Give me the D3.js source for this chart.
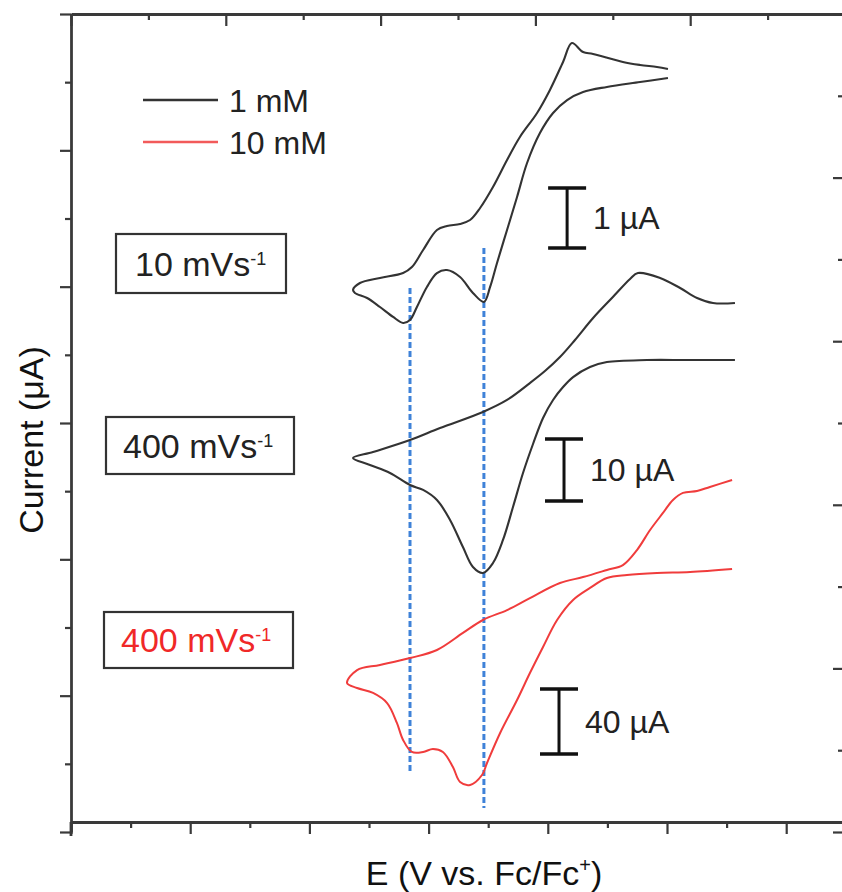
<!DOCTYPE html>
<html>
<head>
<meta charset="utf-8">
<script src="https://cdn.jsdelivr.net/npm/d3@7"></script>
<style>
  body { margin: 0; background: #fff; }
  text { font-family: "Liberation Sans", Arial, sans-serif; fill: #222; }
</style>
</head>
<body>
<div id="vis-container"></div>
<script>
//width and height
var w = 842;
var h = 892;

// cyclic voltammograms, [E (V), current (a.u., stacked)]
// each one runs from the upper right end, round the left tip, to the lower right end
var cv10_1mM = [[0.504,55.97],[0.458,56.11],[0.387,56.26],[0.315,56.48],[0.190,57.07],[0.148,57.21],[0.101,57.87],
  [0.064,56.48],[0.009,54.43],[-0.045,52.74],[-0.117,50.98],[-0.171,49.29],[-0.230,47.31],[-0.284,45.77],
  [-0.326,44.89],[-0.368,44.60],[-0.423,44.45],[-0.465,44.16],[-0.523,42.69],[-0.570,41.44],[-0.607,41.00],
  [-0.704,40.64],[-0.788,40.27],[-0.817,39.76],[-0.809,39.54],[-0.758,39.17],[-0.704,38.51],[-0.649,37.78],
  [-0.607,37.34],[-0.578,37.56],[-0.549,38.51],[-0.507,39.98],[-0.465,41.00],[-0.423,41.22],[-0.368,40.71],
  [-0.314,39.54],[-0.268,38.88],[-0.242,39.98],[-0.213,41.74],[-0.171,44.16],[-0.129,46.58],[-0.087,49.07],
  [-0.033,51.27],[0.022,52.74],[0.081,53.69],[0.148,54.28],[0.248,54.65],[0.387,55.01],[0.504,55.31]];

var cv400_1mM = [[0.785,38.80],[0.693,38.80],[0.626,39.17],[0.555,39.90],[0.471,40.64],[0.378,41.00],[0.345,40.56],
  [0.273,39.24],[0.190,37.70],[0.114,36.09],[0.051,34.84],[-0.012,33.81],[-0.075,32.93],[-0.171,31.69],[-0.272,30.81],
  [-0.452,29.63],[-0.578,28.75],[-0.733,27.87],[-0.817,27.43],[-0.746,26.92],[-0.662,26.33],[-0.578,25.45],
  [-0.523,25.09],[-0.465,24.35],[-0.410,22.89],[-0.356,20.90],[-0.314,19.44],[-0.272,19.00],[-0.230,19.73],
  [-0.188,21.42],[-0.146,23.84],[-0.104,26.33],[-0.062,28.46],[-0.020,30.37],[0.022,31.69],[0.064,32.64],[0.106,33.37],
  [0.177,34.11],[0.248,34.47],[0.416,34.62],[0.584,34.62],[0.785,34.62]];

var cv400_10mM = [[0.773,25.82],[0.680,25.31],[0.626,25.01],[0.567,24.87],[0.525,24.35],[0.483,23.40],[0.429,22.15],
  [0.374,20.68],[0.315,19.58],[0.248,19.22],[0.148,18.70],[0.051,18.26],[-0.075,17.16],[-0.171,16.28],
  [-0.272,15.55],[-0.356,14.60],[-0.465,13.35],[-0.578,12.76],[-0.704,12.25],[-0.800,11.88],[-0.842,10.93],
  [-0.800,10.56],[-0.733,10.20],[-0.674,9.46],[-0.633,8.00],[-0.607,6.75],[-0.570,5.87],[-0.523,5.87],
  [-0.482,6.09],[-0.440,5.87],[-0.398,4.77],[-0.368,3.67],[-0.326,3.45],[-0.276,4.18],[-0.255,5.06],
  [-0.200,7.26],[-0.129,9.68],[-0.075,11.66],[-0.020,13.57],[0.039,15.55],[0.106,17.02],[0.177,17.90],
  [0.248,18.63],[0.332,18.85],[0.458,19.00],[0.597,19.07],[0.773,19.29]];

// peak potentials marked with dashed lines: [E, I from, I to]
var peakLines = [[-0.578, 39.90, 4.33], [-0.268, 42.84, 1.76]];

// scale bars: [E, I top, I bottom, label]
var scaleBars = [[0.081, 47.24, 42.84, "1 µA"], [0.068, 28.83, 24.28, "10 µA"], [0.047, 10.49, 5.72, "40 µA"]];

var legendItems = ["1 mM", "10 mM"];
var scanRates = ["10 mVs", "400 mVs", "400 mVs"];

//scale functions
var xScale = d3.scaleLinear().domain([-2, 1.25]).range([71, 845.8]);
var yScale = d3.scaleLinear().domain([0, 60]).range([832, 14]);
var xTop = d3.scaleLinear().domain([0, 5]).range([71, 845]);
var yRight = d3.scaleLinear().domain([0, 5]).range([832, 14]);

var svg = d3.select("#vis-container")
    .append("svg")
    .attr("width", w)
    .attr("height", h);

var frameColor = "#3a3a3a";

function drawAxis(axis, tx, ty, major, minor, bigTick, smallTick) {
    var gMin = svg.append("g")
        .attr("transform", "translate(" + tx + "," + ty + ")")
        .call(axis.tickValues(minor).tickSize(smallTick).tickSizeOuter(0).tickFormat(""));
    gMin.select(".domain").remove();
    var gMaj = svg.append("g")
        .attr("transform", "translate(" + tx + "," + ty + ")")
        .call(axis.tickValues(major).tickSize(bigTick).tickSizeOuter(0).tickFormat(""));
    svg.selectAll(".tick line").attr("stroke", frameColor).attr("stroke-width", 2.2);
    gMaj.select(".domain").attr("stroke", frameColor).attr("stroke-width", 2.8);
}

// bottom axis (ticks outward)
drawAxis(d3.axisBottom(xScale), 0, 822, d3.range(-2, 1.3, 0.5), d3.range(-1.75, 1.3, 0.5), 12, 6);
// top axis (ticks inward)
drawAxis(d3.axisBottom(xTop), 0, 14, d3.range(0, 5.1, 1), d3.range(0.5, 5, 1), 12, 6);
// left axis (ticks outward)
drawAxis(d3.axisLeft(yScale), 71, 0, d3.range(0, 61, 10), d3.range(5, 60, 10), 11, 6);
// right axis (ticks inward)
drawAxis(d3.axisLeft(yRight), 843, 0, d3.range(0, 5.1, 1), d3.range(0.5, 5, 1), 10, 5);

// left axis runs a little past the bottom axis
svg.append("line")
    .attr("x1", 71).attr("x2", 71)
    .attr("y1", 822).attr("y2", 836)
    .attr("stroke", frameColor).attr("stroke-width", 2.8);

// dashed peak lines
svg.selectAll(".peak")
    .data(peakLines)
    .enter()
    .append("line")
    .attr("class", "peak")
    .attr("x1", function (d) { return xScale(d[0]); })
    .attr("x2", function (d) { return xScale(d[0]); })
    .attr("y1", function (d) { return yScale(d[1]); })
    .attr("y2", function (d) { return yScale(d[2]); })
    .attr("stroke", "#3f82d8")
    .attr("stroke-width", 3)
    .attr("stroke-dasharray", "6,3");

// curves
var line = d3.line()
    .x(function (d) { return xScale(d[0]); })
    .y(function (d) { return yScale(d[1]); })
    .curve(d3.curveCatmullRom.alpha(0.5));

svg.append("path").datum(cv10_1mM).attr("d", line)
    .attr("fill", "none").attr("stroke", "#333").attr("stroke-width", 2.1);
svg.append("path").datum(cv400_1mM).attr("d", line)
    .attr("fill", "none").attr("stroke", "#333").attr("stroke-width", 2.1);
svg.append("path").datum(cv400_10mM).attr("d", line)
    .attr("fill", "none").attr("stroke", "#f03c3c").attr("stroke-width", 2);

// scale bars
var bars = svg.selectAll(".bar")
    .data(scaleBars)
    .enter().append("g")
    .attr("class", "bar");

bars.append("line")
    .attr("x1", function (d) { return xScale(d[0]); })
    .attr("x2", function (d) { return xScale(d[0]); })
    .attr("y1", function (d) { return yScale(d[1]); })
    .attr("y2", function (d) { return yScale(d[2]); })
    .attr("stroke", "#111").attr("stroke-width", 3);
[1, 2].forEach(function (k) {
    bars.append("line")
        .attr("x1", function (d) { return xScale(d[0]) - 19; })
        .attr("x2", function (d) { return xScale(d[0]) + 19; })
        .attr("y1", function (d) { return yScale(d[k]); })
        .attr("y2", function (d) { return yScale(d[k]); })
        .attr("stroke", "#111").attr("stroke-width", 3.5);
});
bars.append("text")
    .attr("x", function (d) { return xScale(d[0]) + 26; })
    .attr("y", function (d) { return (yScale(d[1]) + yScale(d[2])) / 2; })
    .attr("dy", "0.36em")
    .style("font-size", "32px")
    .text(function (d) { return d[3]; });

// legend
var legend = svg.selectAll(".legend")
    .data(legendItems)
    .enter().append("g")
    .attr("class", "legend")
    .attr("transform", function (d, i) { return "translate(0," + (100 + i * 42) + ")"; });

legend.append("line")
    .attr("x1", 143).attr("x2", 218)
    .attr("stroke", function (d, i) { return i == 0 ? "#333" : "#f25a5a"; })
    .attr("stroke-width", 2.5);

legend.append("text")
    .attr("x", 229)
    .attr("y", 12)
    .style("font-size", "32px")
    .text(function (d) { return d; });

// scan rate boxes
var boxes = [[116, 234, 170, 59, 135, "#222"], [106, 417, 188, 57, 123, "#222"], [104, 612, 189, 56, 121, "#f02828"]];
boxes.forEach(function (b, i) {
    svg.append("rect")
        .attr("x", b[0]).attr("y", b[1])
        .attr("width", b[2]).attr("height", b[3])
        .attr("fill", "none").attr("stroke", "#333").attr("stroke-width", 2.2);
    var t = svg.append("text")
        .attr("x", b[4]).attr("y", b[1] + b[3] / 2 + 12)
        .style("font-size", "34px")
        .style("fill", b[5]);
    t.append("tspan").text(scanRates[i]);
    t.append("tspan").attr("dy", -11).style("font-size", "18px").text("-1");
});

// axis titles
svg.append("text")
    .attr("transform", "translate(43,440) rotate(-90)")
    .style("text-anchor", "middle")
    .style("font-size", "34px")
    .style("fill", "#111")
    .text("Current (μA)");

var xt = svg.append("text")
    .attr("x", 484).attr("y", 885)
    .style("text-anchor", "middle")
    .style("font-size", "34px")
    .style("fill", "#111");
xt.append("tspan").text("E (V vs. Fc/Fc");
xt.append("tspan").attr("dy", -13).style("font-size", "20px").text("+");
xt.append("tspan").attr("dy", 13).text(")");
</script>
</body>
</html>
